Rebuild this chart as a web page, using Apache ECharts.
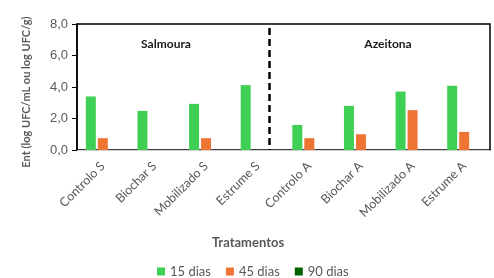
<!DOCTYPE html>
<html>
<head>
<meta charset="utf-8">
<script src="https://cdn.jsdelivr.net/npm/echarts@6/dist/echarts.min.js"></script>
<style>
  html, body { margin: 0; padding: 0; background: #fff; }
  #chart { width: 494px; height: 278px; }
</style>
</head>
<body>
<div id="chart"></div>
<script>
// dados
var categorias = ["Controlo S", "Biochar S", "Mobilizado S", "Estrume S",
                  "Controlo A", "Biochar A", "Mobilizado A", "Estrume A"];
var dias15 = [3.4, 2.48, 2.93, 4.12, 1.59, 2.8, 3.71, 4.08];
var dias45 = [0.75, null, 0.75, null, 0.75, 1.0, 2.53, 1.15];
var dias90 = [null, null, null, null, null, null, null, null];
var yTicks = [0, 2, 4, 6, 8];

var chart = echarts.init(document.getElementById("chart"));
var cinza = "#595959";

var option = {
  animation: false,
  textStyle: { fontFamily: "Lato" },
  title: [
    { text: "Salmoura", left: 161, top: 33, textAlign: "center",
      textStyle: { fontSize: 12, fontWeight: "bold", color: "#1a1a1a", fontFamily: "Lato" } },
    { text: "Azeitona", left: 383, top: 33, textAlign: "center",
      textStyle: { fontSize: 12, fontWeight: "bold", color: "#1a1a1a", fontFamily: "Lato" } },
    { text: "Tratamentos", left: 243, top: 231, textAlign: "center",
      textStyle: { fontSize: 13, fontWeight: "bold", color: cinza, fontFamily: "Lato" } }
  ],
  legend: {
    top: 260,
    left: 152,
    itemWidth: 8,
    itemHeight: 8,
    itemGap: 15,
    icon: "rect",
    textStyle: { fontSize: 13, color: cinza, fontFamily: "Lato" },
    data: ["15 dias", "45 dias", "90 dias"]
  },
  grid: {
    left: 77, right: 4, top: 24, bottom: 128,
    show: true, borderColor: "#000", borderWidth: 1.5
  },
  xAxis: [
    {
      type: "category",
      data: categorias,
      axisLine: { lineStyle: { color: "#d0d0d0" } },
      axisTick: { show: false },
      axisLabel: { rotate: 45, fontSize: 12.5, color: cinza, margin: 14, interval: 0 }
    },
    { type: "value", min: 0, max: 8, show: false }
  ],
  yAxis: {
    type: "value",
    min: 0,
    max: 8,
    interval: 2,
    name: "Ent (log UFC/mL ou log UFC/g)",
    nameLocation: "middle",
    nameGap: 45,
    nameTextStyle: { fontSize: 11, fontWeight: "bold", color: cinza, padding: [0, 0, 0, -10] },
    axisLine: { show: true, lineStyle: { color: "#000", width: 1.5 } },
    axisTick: { show: true, length: 5, lineStyle: { color: "#000" } },
    splitLine: { show: false },
    axisLabel: {
      fontSize: 13, color: cinza, margin: 9, fontFamily: "Liberation Sans",
      formatter: function (v) { return v.toFixed(1).replace(".", ","); }
    }
  },
  series: [
    { name: "15 dias", type: "bar", data: dias15, barWidth: 10, barGap: "20%",
      itemStyle: { color: "#40cf55" } },
    { name: "45 dias", type: "bar", data: dias45, barWidth: 10, barGap: "20%",
      itemStyle: { color: "#ed7433" } },
    { name: "90 dias", type: "bar", data: dias90, barWidth: 10, barGap: "20%",
      itemStyle: { color: "#006400" } },
    {
      // linha divisória entre Salmoura e Azeitona
      type: "line", xAxisIndex: 1, data: [], silent: true,
      markLine: {
        symbol: "none",
        silent: true,
        label: { show: false },
        lineStyle: { color: "#000", type: [7, 4], width: 2.5 },
        data: [[{ coord: [3.72, 7.75] }, { coord: [3.72, 0] }]]
      }
    }
  ]
};
option && chart.setOption(option);
</script>
</body>
</html>
